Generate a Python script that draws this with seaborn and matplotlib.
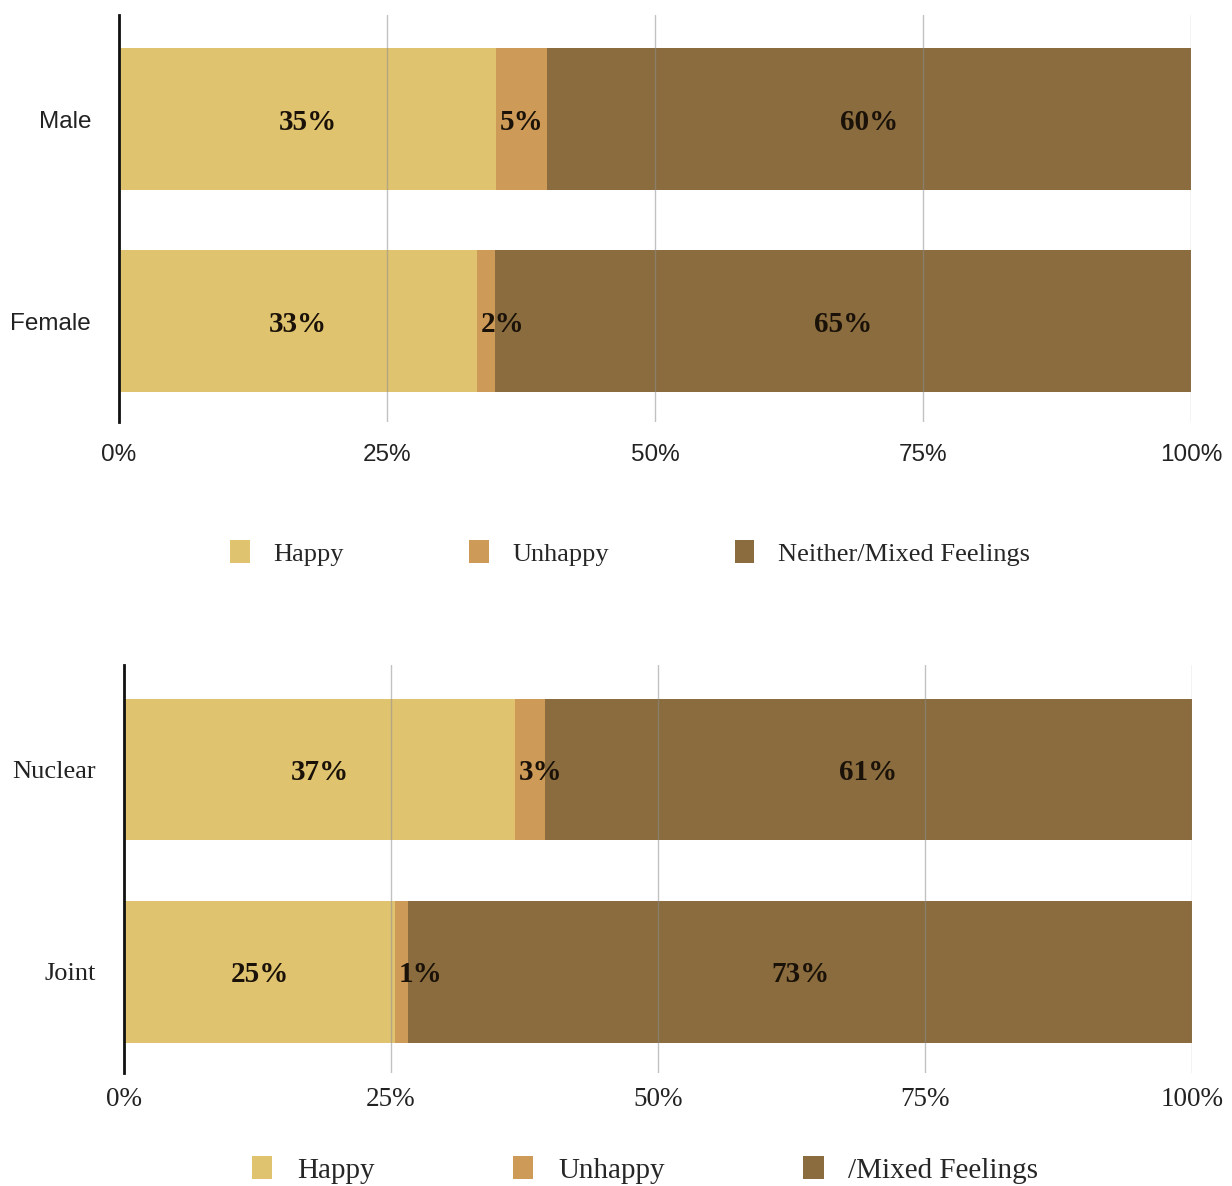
import matplotlib
matplotlib.use("Agg")
import matplotlib.pyplot as plt
from matplotlib.patches import Patch
import seaborn as sns
import pandas as pd

# Response shares (%) by gender
gender = ["Male", "Female"]
gender_happy = [35.2, 33.4]
gender_unhappy = [4.7, 1.7]
gender_mixed = [60.1, 64.9]

# Response shares (%) by family type
family = ["Nuclear", "Joint"]
family_happy = [36.6, 25.4]
family_unhappy = [2.8, 1.2]
family_mixed = [60.6, 73.4]

x_ticks = [0, 25, 50, 75, 100]
x_tick_labels = ["0%", "25%", "50%", "75%", "100%"]
legend_top = ["Happy", "Unhappy", "Neither/Mixed Feelings"]
legend_bottom = ["Happy", "Unhappy", "/Mixed Feelings"]

colors = ["#DFC36F", "#CD9A57", "#8A6C3E"]

sns.set_theme(style="white")
SANS = "Liberation Sans"
SERIF = "Liberation Serif"

W, H = 1232, 1186
fig = plt.figure(figsize=(W / 100, H / 100), dpi=100)
fig.patch.set_facecolor("white")


def draw_panel(ax, cats, happy, unhappy, mixed, tick_family, tick_size,
               ylab_size, ylim, xpad, ypad):
    df = pd.DataFrame({"cat": cats, "happy": happy,
                       "unhappy": unhappy, "mixed": mixed})
    df["c1"] = df["happy"]
    df["c2"] = df["happy"] + df["unhappy"]
    df["c3"] = df["c2"] + df["mixed"]
    # stacked bars: draw cumulative totals from the widest down
    for col, c in zip(["c3", "c2", "c1"], colors[::-1]):
        sns.barplot(data=df, x=col, y="cat", orient="h", color=c,
                    saturation=1, width=0.70, ax=ax, linewidth=0,
                    zorder=1)
    ax.set_xlim(0, 100)
    ax.set_ylim(*ylim)
    ax.set_xlabel("")
    ax.set_ylabel("")
    ax.set_xticks(x_ticks)
    ax.set_xticklabels(x_tick_labels, family=tick_family, fontsize=tick_size,
                       color="#222222")
    ax.set_yticks(range(len(cats)))
    ax.set_yticklabels(cats, family=tick_family, fontsize=ylab_size,
                       color="#222222")
    ax.tick_params(axis="x", length=0, pad=xpad)
    ax.tick_params(axis="y", length=0, pad=ypad)
    ax.set_axisbelow(False)
    ax.grid(axis="x", color="#8f8f8f", linewidth=1.0, alpha=0.55, zorder=2.5)
    ax.grid(axis="y", visible=False)
    for s in ["top", "right", "bottom"]:
        ax.spines[s].set_visible(False)
    ax.spines["left"].set_color("#111111")
    ax.spines["left"].set_linewidth(2)
    ax.spines["left"].set_zorder(3)
    ax.set_facecolor("none")

    # value labels centred in each segment (nudged right for thin ones)
    for i, row in df.iterrows():
        segs = [(0, row["happy"]), (row["c1"], row["unhappy"]),
                (row["c2"], row["mixed"])]
        for left, val in segs:
            xc = max(left + val / 2, left + 2.4)
            ax.text(xc, i, f"{val:.0f}%", ha="center", va="center_baseline",
                    family=SERIF, fontweight="bold", fontsize=21,
                    color="#1a1208", zorder=4)


ax1 = fig.add_axes([119 / W, 1 - 422 / H, 1072 / W, 407 / H])
draw_panel(ax1, gender, gender_happy, gender_unhappy, gender_mixed,
           SANS, 17.5, 17.5, (1.5, -0.515), 16, 20)

ax2 = fig.add_axes([124 / W, 1 - 1073 / H, 1068 / W, 408 / H])
draw_panel(ax2, family, family_happy, family_unhappy, family_mixed,
           SERIF, 19.5, 19, (1.5, -0.517), 10, 20)

handles = [Patch(facecolor=c, edgecolor="none") for c in colors]
fig.legend(handles, legend_top, loc="center",
           bbox_to_anchor=(630 / W, 1 - 553 / H), ncol=3, frameon=False,
           prop={"family": SERIF, "size": 19}, handlelength=0.75,
           handleheight=0.95, handletextpad=0.9, columnspacing=4.75)
fig.legend(handles, legend_bottom, loc="center",
           bbox_to_anchor=(645 / W, 1 - 1170 / H), ncol=3, frameon=False,
           prop={"family": SERIF, "size": 21}, handlelength=0.7,
           handleheight=0.85, handletextpad=0.85, columnspacing=4.75)

fig.savefig("out.png", dpi=100, facecolor="white")
